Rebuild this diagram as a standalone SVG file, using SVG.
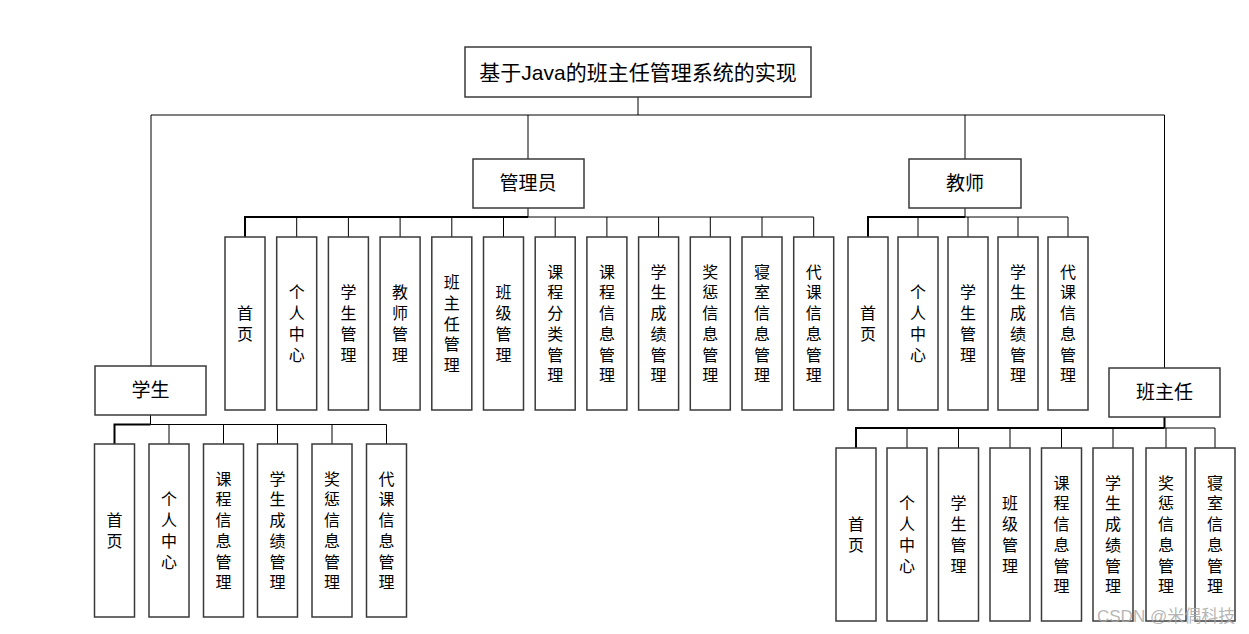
<svg xmlns="http://www.w3.org/2000/svg" width="1249" height="634" viewBox="0 0 1249 634">
<style>
.bg{fill:#ffffff}
.box{fill:#ffffff;stroke:#3a3a3a;stroke-width:1.5}
.ln{stroke:#000;stroke-width:1;fill:none}
.thk{stroke:#000;stroke-width:2;fill:none}
.t{font-family:"Liberation Sans","Noto Sans CJK SC",sans-serif;fill:#000;text-anchor:middle;dominant-baseline:central}
.title{font-size:21px}
.role{font-size:19px}
.v{font-size:16px}
.wm{font-family:"Liberation Sans","Noto Sans CJK SC",sans-serif;font-size:17px;fill:#a8a8a8;fill-opacity:0.85}
</style>
<rect class="bg" x="0" y="0" width="1249" height="634"/>
<g id="connectors">
<path class="ln" d="M638 97V115M151 115H1164.5M151 115V366M528 115V159M965 115V159M1164.5 115V368"/>
<path class="ln" d="M528 208V217M528 217H813.7"/>
<path class="thk" d="M245 237V217H528"/>
<path class="ln" d="M296.7 217V237M348.4 217V237M400.1 217V237M451.8 217V237M503.5 217V237M555.2 217V237M606.9 217V237M658.6 217V237M710.3 217V237M762 217V237M813.7 217V237"/>
<path class="ln" d="M965 208V217M965 217H1068"/>
<path class="thk" d="M868 237V217H965"/>
<path class="ln" d="M918 217V237M968 217V237M1018 217V237M1068 217V237"/>
<path class="ln" d="M150.5 415V424.5M150.5 424.5H386.5"/>
<path class="thk" d="M114.5 444V424.5H150.5"/>
<path class="ln" d="M169 424.5V444M223.5 424.5V444M277.5 424.5V444M332 424.5V444M386.5 424.5V444"/>
<path class="thk" d="M1164.5 417V428M856 448V428H1164.5"/>
<path class="ln" d="M1164.5 428H1215M907 428V448M958.5 428V448M1010 428V448M1061.5 428V448M1113 428V448M1166 428V448M1215 428V448"/>
</g>
<g id="title"><rect class="box" x="465" y="47" width="346" height="50"/><text class="t title" x="638" y="72">基于Java的班主任管理系统的实现</text></g>
<g id="admin"><rect class="box" x="473" y="159" width="111" height="49"/><text class="t role" x="528" y="183.5">管理员</text></g>
<g id="teacher"><rect class="box" x="909" y="159" width="112" height="49"/><text class="t role" x="965" y="183.5">教师</text></g>
<g id="student"><rect class="box" x="95" y="366" width="111" height="49"/><text class="t role" x="150.5" y="390.5">学生</text></g>
<g id="headteacher"><rect class="box" x="1109" y="368" width="111" height="49"/><text class="t role" x="1164.5" y="392.5">班主任</text></g>

<g id="a1"><rect class="box" x="225" y="237" width="40" height="173"/><text class="t v"><tspan x="245" y="313.15">首</tspan><tspan x="245" y="333.85">页</tspan></text></g>
<g id="a2"><rect class="box" x="276.7" y="237" width="40" height="173"/><text class="t v"><tspan x="296.7" y="292.45">个</tspan><tspan x="296.7" y="313.15">人</tspan><tspan x="296.7" y="333.85">中</tspan><tspan x="296.7" y="354.55">心</tspan></text></g>
<g id="a3"><rect class="box" x="328.4" y="237" width="40" height="173"/><text class="t v"><tspan x="348.4" y="292.45">学</tspan><tspan x="348.4" y="313.15">生</tspan><tspan x="348.4" y="333.85">管</tspan><tspan x="348.4" y="354.55">理</tspan></text></g>
<g id="a4"><rect class="box" x="380.1" y="237" width="40" height="173"/><text class="t v"><tspan x="400.1" y="292.45">教</tspan><tspan x="400.1" y="313.15">师</tspan><tspan x="400.1" y="333.85">管</tspan><tspan x="400.1" y="354.55">理</tspan></text></g>
<g id="a5"><rect class="box" x="431.8" y="237" width="40" height="173"/><text class="t v"><tspan x="451.8" y="282.1">班</tspan><tspan x="451.8" y="302.8">主</tspan><tspan x="451.8" y="323.5">任</tspan><tspan x="451.8" y="344.2">管</tspan><tspan x="451.8" y="364.9">理</tspan></text></g>
<g id="a6"><rect class="box" x="483.5" y="237" width="40" height="173"/><text class="t v"><tspan x="503.5" y="292.45">班</tspan><tspan x="503.5" y="313.15">级</tspan><tspan x="503.5" y="333.85">管</tspan><tspan x="503.5" y="354.55">理</tspan></text></g>
<g id="a7"><rect class="box" x="535.2" y="237" width="40" height="173"/><text class="t v"><tspan x="555.2" y="271.75">课</tspan><tspan x="555.2" y="292.45">程</tspan><tspan x="555.2" y="313.15">分</tspan><tspan x="555.2" y="333.85">类</tspan><tspan x="555.2" y="354.55">管</tspan><tspan x="555.2" y="375.25">理</tspan></text></g>
<g id="a8"><rect class="box" x="586.9" y="237" width="40" height="173"/><text class="t v"><tspan x="606.9" y="271.75">课</tspan><tspan x="606.9" y="292.45">程</tspan><tspan x="606.9" y="313.15">信</tspan><tspan x="606.9" y="333.85">息</tspan><tspan x="606.9" y="354.55">管</tspan><tspan x="606.9" y="375.25">理</tspan></text></g>
<g id="a9"><rect class="box" x="638.6" y="237" width="40" height="173"/><text class="t v"><tspan x="658.6" y="271.75">学</tspan><tspan x="658.6" y="292.45">生</tspan><tspan x="658.6" y="313.15">成</tspan><tspan x="658.6" y="333.85">绩</tspan><tspan x="658.6" y="354.55">管</tspan><tspan x="658.6" y="375.25">理</tspan></text></g>
<g id="a10"><rect class="box" x="690.3" y="237" width="40" height="173"/><text class="t v"><tspan x="710.3" y="271.75">奖</tspan><tspan x="710.3" y="292.45">惩</tspan><tspan x="710.3" y="313.15">信</tspan><tspan x="710.3" y="333.85">息</tspan><tspan x="710.3" y="354.55">管</tspan><tspan x="710.3" y="375.25">理</tspan></text></g>
<g id="a11"><rect class="box" x="742" y="237" width="40" height="173"/><text class="t v"><tspan x="762" y="271.75">寝</tspan><tspan x="762" y="292.45">室</tspan><tspan x="762" y="313.15">信</tspan><tspan x="762" y="333.85">息</tspan><tspan x="762" y="354.55">管</tspan><tspan x="762" y="375.25">理</tspan></text></g>
<g id="a12"><rect class="box" x="793.7" y="237" width="40" height="173"/><text class="t v"><tspan x="813.7" y="271.75">代</tspan><tspan x="813.7" y="292.45">课</tspan><tspan x="813.7" y="313.15">信</tspan><tspan x="813.7" y="333.85">息</tspan><tspan x="813.7" y="354.55">管</tspan><tspan x="813.7" y="375.25">理</tspan></text></g>

<g id="t1"><rect class="box" x="848" y="237" width="40" height="173"/><text class="t v"><tspan x="868" y="313.15">首</tspan><tspan x="868" y="333.85">页</tspan></text></g>
<g id="t2"><rect class="box" x="898" y="237" width="40" height="173"/><text class="t v"><tspan x="918" y="292.45">个</tspan><tspan x="918" y="313.15">人</tspan><tspan x="918" y="333.85">中</tspan><tspan x="918" y="354.55">心</tspan></text></g>
<g id="t3"><rect class="box" x="948" y="237" width="40" height="173"/><text class="t v"><tspan x="968" y="292.45">学</tspan><tspan x="968" y="313.15">生</tspan><tspan x="968" y="333.85">管</tspan><tspan x="968" y="354.55">理</tspan></text></g>
<g id="t4"><rect class="box" x="998" y="237" width="40" height="173"/><text class="t v"><tspan x="1018" y="271.75">学</tspan><tspan x="1018" y="292.45">生</tspan><tspan x="1018" y="313.15">成</tspan><tspan x="1018" y="333.85">绩</tspan><tspan x="1018" y="354.55">管</tspan><tspan x="1018" y="375.25">理</tspan></text></g>
<g id="t5"><rect class="box" x="1048" y="237" width="40" height="173"/><text class="t v"><tspan x="1068" y="271.75">代</tspan><tspan x="1068" y="292.45">课</tspan><tspan x="1068" y="313.15">信</tspan><tspan x="1068" y="333.85">息</tspan><tspan x="1068" y="354.55">管</tspan><tspan x="1068" y="375.25">理</tspan></text></g>

<g id="s1"><rect class="box" x="94.5" y="444" width="40" height="173"/><text class="t v"><tspan x="114.5" y="520.15">首</tspan><tspan x="114.5" y="540.85">页</tspan></text></g>
<g id="s2"><rect class="box" x="149" y="444" width="40" height="173"/><text class="t v"><tspan x="169" y="499.45">个</tspan><tspan x="169" y="520.15">人</tspan><tspan x="169" y="540.85">中</tspan><tspan x="169" y="561.55">心</tspan></text></g>
<g id="s3"><rect class="box" x="203.5" y="444" width="40" height="173"/><text class="t v"><tspan x="223.5" y="478.75">课</tspan><tspan x="223.5" y="499.45">程</tspan><tspan x="223.5" y="520.15">信</tspan><tspan x="223.5" y="540.85">息</tspan><tspan x="223.5" y="561.55">管</tspan><tspan x="223.5" y="582.25">理</tspan></text></g>
<g id="s4"><rect class="box" x="257.5" y="444" width="40" height="173"/><text class="t v"><tspan x="277.5" y="478.75">学</tspan><tspan x="277.5" y="499.45">生</tspan><tspan x="277.5" y="520.15">成</tspan><tspan x="277.5" y="540.85">绩</tspan><tspan x="277.5" y="561.55">管</tspan><tspan x="277.5" y="582.25">理</tspan></text></g>
<g id="s5"><rect class="box" x="312" y="444" width="40" height="173"/><text class="t v"><tspan x="332" y="478.75">奖</tspan><tspan x="332" y="499.45">惩</tspan><tspan x="332" y="520.15">信</tspan><tspan x="332" y="540.85">息</tspan><tspan x="332" y="561.55">管</tspan><tspan x="332" y="582.25">理</tspan></text></g>
<g id="s6"><rect class="box" x="366.5" y="444" width="40" height="173"/><text class="t v"><tspan x="386.5" y="478.75">代</tspan><tspan x="386.5" y="499.45">课</tspan><tspan x="386.5" y="520.15">信</tspan><tspan x="386.5" y="540.85">息</tspan><tspan x="386.5" y="561.55">管</tspan><tspan x="386.5" y="582.25">理</tspan></text></g>

<g id="h1"><rect class="box" x="836" y="448" width="40" height="173"/><text class="t v"><tspan x="856" y="524.15">首</tspan><tspan x="856" y="544.85">页</tspan></text></g>
<g id="h2"><rect class="box" x="887" y="448" width="40" height="173"/><text class="t v"><tspan x="907" y="503.45">个</tspan><tspan x="907" y="524.15">人</tspan><tspan x="907" y="544.85">中</tspan><tspan x="907" y="565.55">心</tspan></text></g>
<g id="h3"><rect class="box" x="938.5" y="448" width="40" height="173"/><text class="t v"><tspan x="958.5" y="503.45">学</tspan><tspan x="958.5" y="524.15">生</tspan><tspan x="958.5" y="544.85">管</tspan><tspan x="958.5" y="565.55">理</tspan></text></g>
<g id="h4"><rect class="box" x="990" y="448" width="40" height="173"/><text class="t v"><tspan x="1010" y="503.45">班</tspan><tspan x="1010" y="524.15">级</tspan><tspan x="1010" y="544.85">管</tspan><tspan x="1010" y="565.55">理</tspan></text></g>
<g id="h5"><rect class="box" x="1041.5" y="448" width="40" height="173"/><text class="t v"><tspan x="1061.5" y="482.75">课</tspan><tspan x="1061.5" y="503.45">程</tspan><tspan x="1061.5" y="524.15">信</tspan><tspan x="1061.5" y="544.85">息</tspan><tspan x="1061.5" y="565.55">管</tspan><tspan x="1061.5" y="586.25">理</tspan></text></g>
<g id="h6"><rect class="box" x="1093" y="448" width="40" height="173"/><text class="t v"><tspan x="1113" y="482.75">学</tspan><tspan x="1113" y="503.45">生</tspan><tspan x="1113" y="524.15">成</tspan><tspan x="1113" y="544.85">绩</tspan><tspan x="1113" y="565.55">管</tspan><tspan x="1113" y="586.25">理</tspan></text></g>
<g id="h7"><rect class="box" x="1146" y="448" width="40" height="173"/><text class="t v"><tspan x="1166" y="482.75">奖</tspan><tspan x="1166" y="503.45">惩</tspan><tspan x="1166" y="524.15">信</tspan><tspan x="1166" y="544.85">息</tspan><tspan x="1166" y="565.55">管</tspan><tspan x="1166" y="586.25">理</tspan></text></g>
<g id="h8"><rect class="box" x="1195" y="448" width="40" height="173"/><text class="t v"><tspan x="1215" y="482.75">寝</tspan><tspan x="1215" y="503.45">室</tspan><tspan x="1215" y="524.15">信</tspan><tspan x="1215" y="544.85">息</tspan><tspan x="1215" y="565.55">管</tspan><tspan x="1215" y="586.25">理</tspan></text></g>

<text class="wm" x="1097" y="622">CSDN @米偶科技</text>
</svg>
